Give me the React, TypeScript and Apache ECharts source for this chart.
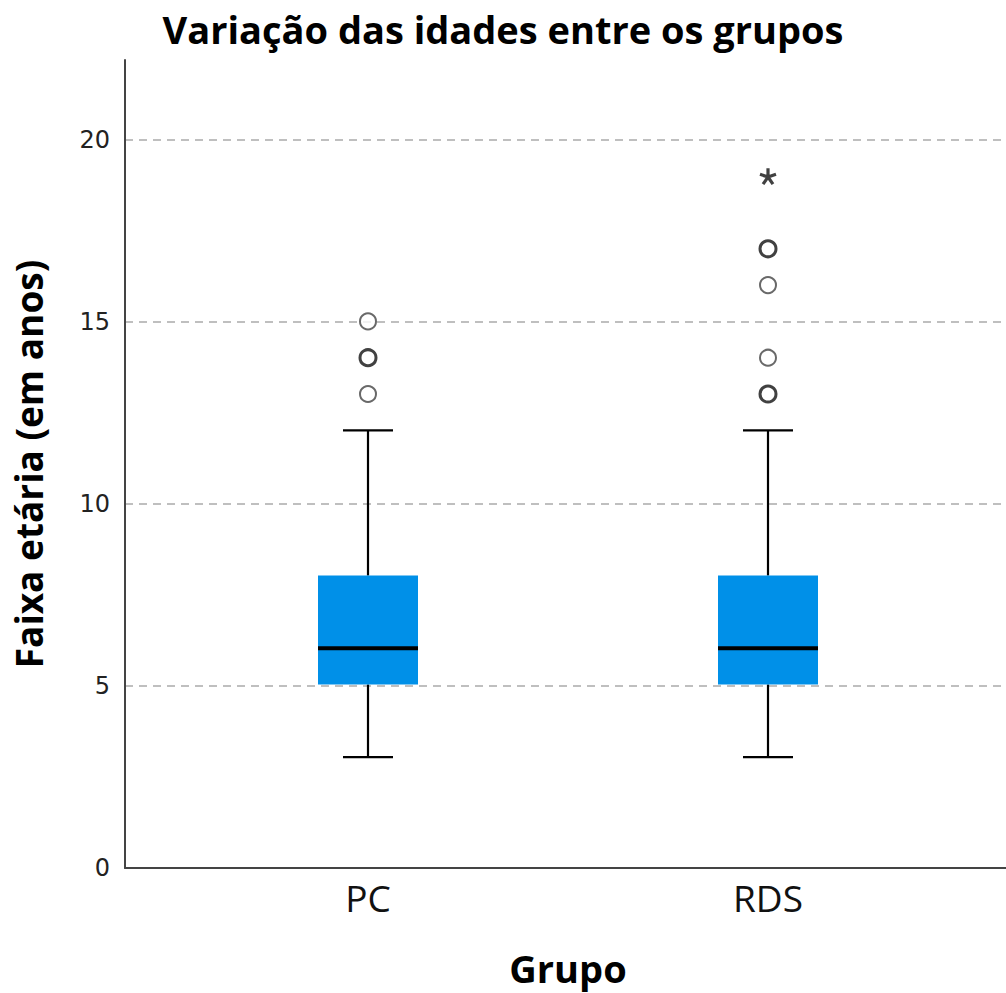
import React, { useEffect, useRef } from "react";
import * as echarts from "echarts";

// Groups on the horizontal axis
const groups = ["PC", "RDS"];

// Box summaries per group: [lower whisker, Q1, median, Q3, upper whisker]
const pcBox = [3, 5, 6, 8, 12];
const rdsBox = [3, 5, 6, 8, 12];

// Outliers (repeated values appear once per case)
const pcOutliers = [13, 14, 14, 15];
const rdsOutliers = [13, 13, 14, 16, 17, 17];

// Extreme values (drawn as asterisks)
const pcExtremes: number[] = [];
const rdsExtremes = [19];

// Value axis
const yMin = 0;
const yMax = 22.2;
const yStep = 5;

const BOX_COLOR = "#0090E8";

const countValues = (vals: number[]) => {
  const m = new Map<number, number>();
  vals.forEach((v) => m.set(v, (m.get(v) || 0) + 1));
  return Array.from(m.entries());
};

const outlierPoints = () => {
  const pts: any[] = [];
  [pcOutliers, rdsOutliers].forEach((vals, gi) => {
    countValues(vals).forEach(([v, n]) => {
      pts.push({
        value: [gi, v],
        itemStyle: { borderWidth: n > 1 ? 3 : 2, borderColor: n > 1 ? "#111" : "#444" },
      });
    });
  });
  return pts;
};

const extremePoints = () => {
  const pts: any[] = [];
  [pcExtremes, rdsExtremes].forEach((vals, gi) => {
    vals.forEach((v) => pts.push([gi, v]));
  });
  return pts;
};

const ASTERISK =
  "path://M0,0L0,-1M0,0L0.951,-0.309M0,0L0.588,0.809M0,0L-0.588,0.809M0,0L-0.951,-0.309";

export default function App() {
  const ref = useRef<HTMLDivElement>(null);

  useEffect(() => {
    if (!ref.current) return;
    const chart = echarts.init(ref.current, undefined, { renderer: "svg" });

    const boxData = [pcBox, rdsBox].map((b, i) => [i, ...b]);

    chart.setOption({
      animation: false,
      backgroundColor: "#ffffff",
      title: {
        text: "Variação das idades entre os grupos",
        left: "center",
        top: 5,
        textStyle: {
          fontFamily: "Open Sans",
          fontWeight: "bold",
          fontSize: 38,
          color: "#000",
        },
      },
      grid: [
        { left: 125, right: 0, top: 60, bottom: 125 },
        { left: 168, width: 800, top: 60, bottom: 125 },
      ],
      xAxis: [
        {
          type: "value",
          gridIndex: 0,
          min: 0,
          max: 1,
          axisLine: { show: true, lineStyle: { color: "#444", width: 2 } },
          axisTick: { show: false },
          axisLabel: { show: false },
          splitLine: { show: false },
        },
        {
          type: "category",
          gridIndex: 1,
          data: groups,
          axisLine: { show: false },
          axisTick: { show: false },
          axisLabel: {
            fontFamily: "Open Sans",
            fontSize: 37,
            color: "#111",
            margin: 13,
          },
          name: "Grupo",
          nameLocation: "middle",
          nameGap: 82,
          nameTextStyle: {
            fontFamily: "Open Sans",
            fontWeight: "bold",
            fontSize: 38,
            lineHeight: 40,
            color: "#000",
          },
        },
      ],
      yAxis: [
        {
          type: "value",
          gridIndex: 0,
          min: yMin,
          max: yMax,
          interval: yStep,
          axisLine: { show: true, lineStyle: { color: "#444", width: 2 } },
          axisTick: { show: false },
          axisLabel: {
            fontFamily: "DejaVu Sans",
            fontSize: 24,
            color: "#222",
            margin: 15,
            showMaxLabel: false,
          },
          splitLine: {
            show: true,
            showMinLine: false,
            showMaxLine: false,
            lineStyle: { color: "#aaaaaa", type: [8, 6], width: 1.5 },
          },
          name: "Faixa etária (em anos)",
          nameLocation: "middle",
          nameRotate: 90,
          nameGap: 78,
          nameTextStyle: {
            fontFamily: "Open Sans",
            fontWeight: "bold",
            fontSize: 37,
            color: "#000",
          },
        },
        {
          type: "value",
          gridIndex: 1,
          min: yMin,
          max: yMax,
          show: false,
          splitLine: { show: false },
        },
      ],
      series: [
        {
          type: "custom",
          xAxisIndex: 1,
          yAxisIndex: 1,
          data: boxData,
          encode: { x: 0, y: [1, 2, 3, 4, 5] },
          z: 3,
          renderItem: (_params: any, api: any) => {
            const x = api.value(0);
            const lo = api.coord([x, api.value(1)]);
            const q1 = api.coord([x, api.value(2)]);
            const med = api.coord([x, api.value(3)]);
            const q3 = api.coord([x, api.value(4)]);
            const hi = api.coord([x, api.value(5)]);
            const cx = lo[0];
            const bw = 100;
            const cw = 50;
            const ws = { stroke: "#000", lineWidth: 2.2 };
            return {
              type: "group",
              children: [
                { type: "line", shape: { x1: cx, y1: hi[1], x2: cx, y2: q3[1] }, style: ws },
                { type: "line", shape: { x1: cx, y1: q1[1], x2: cx, y2: lo[1] }, style: ws },
                { type: "line", shape: { x1: cx - cw / 2, y1: hi[1], x2: cx + cw / 2, y2: hi[1] }, style: ws },
                { type: "line", shape: { x1: cx - cw / 2, y1: lo[1], x2: cx + cw / 2, y2: lo[1] }, style: ws },
                {
                  type: "rect",
                  shape: { x: cx - bw / 2, y: q3[1], width: bw, height: q1[1] - q3[1] },
                  style: { fill: BOX_COLOR },
                },
                {
                  type: "line",
                  shape: { x1: cx - bw / 2, y1: med[1], x2: cx + bw / 2, y2: med[1] },
                  style: { stroke: "#000", lineWidth: 4 },
                },
              ],
            };
          },
        },
        {
          type: "scatter",
          xAxisIndex: 1,
          yAxisIndex: 1,
          symbol: "circle",
          symbolSize: 16,
          itemStyle: { color: "#ffffff", borderColor: "#444", borderWidth: 2 },
          data: outlierPoints(),
          z: 4,
        },
        {
          type: "scatter",
          xAxisIndex: 1,
          yAxisIndex: 1,
          symbol: ASTERISK,
          symbolSize: 16,
          itemStyle: { color: "none", borderColor: "#111", borderWidth: 3.2 },
          data: extremePoints(),
          z: 4,
        },
      ],
    });

    return () => chart.dispose();
  }, []);

  return (
    <div
      ref={ref}
      style={{ position: "fixed", left: 0, top: 0, width: 1006, height: 993 }}
    />
  );
}
